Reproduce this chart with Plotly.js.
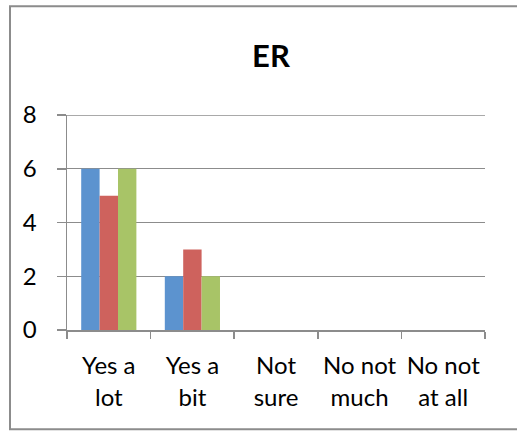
<!DOCTYPE html>
<html>
<head>
<meta charset="utf-8">
<script src="https://cdn.plot.ly/plotly-3.0.1.min.js"></script>
<style>
html,body{margin:0;padding:0;background:#fff;}
#chart{width:517px;height:433px;}
</style>
</head>
<body>
<div id="chart"></div>
<script>
var categories = ["Yes a<br>lot", "Yes a<br>bit", "Not<br>sure", "No not<br>much", "No not<br>at all"];
var series1 = [6, 2, 0, 0, 0];
var series2 = [5, 3, 0, 0, 0];
var series3 = [6, 2, 0, 0, 0];
var seriesNames = ["Series1", "Series2", "Series3"];
var yTicks = [0, 2, 4, 6, 8];
var chartTitle = "ER";

var colors = ["#5C93CF", "#CE625D", "#A8C467"];
var allSeries = [series1, series2, series3];

var traces = allSeries.map(function(vals, i){
  return {
    type: "bar",
    x: categories,
    y: vals,
    name: seriesNames[i],
    marker: {color: colors[i], line: {width: 0}},
    hoverinfo: "none"
  };
});

var W = 517, H = 433;
var L = 67, R = 485, T = 114.5, B = 330;
function px(x){ return (x - L) / (R - L); }
function py(y){ return (B - y) / (B - T); }

var font = "Lato, 'Open Sans', sans-serif";
var yMax = yTicks[yTicks.length - 1];

var layout = {
  width: W, height: H,
  margin: {l: L, r: W - R, t: T, b: H - B, pad: 0},
  paper_bgcolor: "#ffffff",
  plot_bgcolor: "#ffffff",
  showlegend: false,
  barmode: "group",
  bargap: 0.34,
  bargroupgap: 0,
  font: {family: font, color: "#000000", size: 24},
  title: {
    text: "<b>" + chartTitle + "</b>",
    font: {family: font, size: 31, color: "#000000"},
    x: 271 / W, xref: "container", xanchor: "center",
    y: 1 - 56 / H, yref: "container", yanchor: "middle"
  },
  xaxis: {
    type: "category",
    showgrid: false,
    showline: true, linecolor: "#8c8c8c", linewidth: 1.5,
    ticks: "outside", tickson: "boundaries", ticklen: 7, tickcolor: "#8c8c8c", tickwidth: 1.5,
    tickfont: {family: font, size: 24, color: "#000000"},
    ticklabelstandoff: 14,
    tickangle: 0,
    zeroline: false,
    fixedrange: true
  },
  yaxis: {
    range: [0, yMax],
    tickvals: yTicks,
    ticktext: yTicks.map(String),
    showgrid: true, gridcolor: "#8c8c8c", gridwidth: 1.3,
    showline: true, linecolor: "#8c8c8c", linewidth: 1.5,
    ticks: "outside", ticklen: 9, tickcolor: "#8c8c8c", tickwidth: 1.5,
    tickfont: {family: font, size: 24, color: "#000000"},
    ticklabelstandoff: 15,
    zeroline: false,
    fixedrange: true
  },
  shapes: [{
    type: "rect", xref: "paper", yref: "paper",
    x0: px(10), x1: px(522), y0: py(429.5), y1: py(5.5),
    line: {color: "#8c8c8c", width: 2},
    fillcolor: "rgba(0,0,0,0)",
    layer: "below"
  }, {
    type: "line", xref: "paper", yref: "y",
    x0: 0, x1: 1, y0: yMax, y1: yMax,
    line: {color: "#8c8c8c", width: 1.3},
    layer: "below"
  }]
};

Plotly.newPlot("chart", traces, layout, {staticPlot: true, displayModeBar: false});
</script>
</body>
</html>
